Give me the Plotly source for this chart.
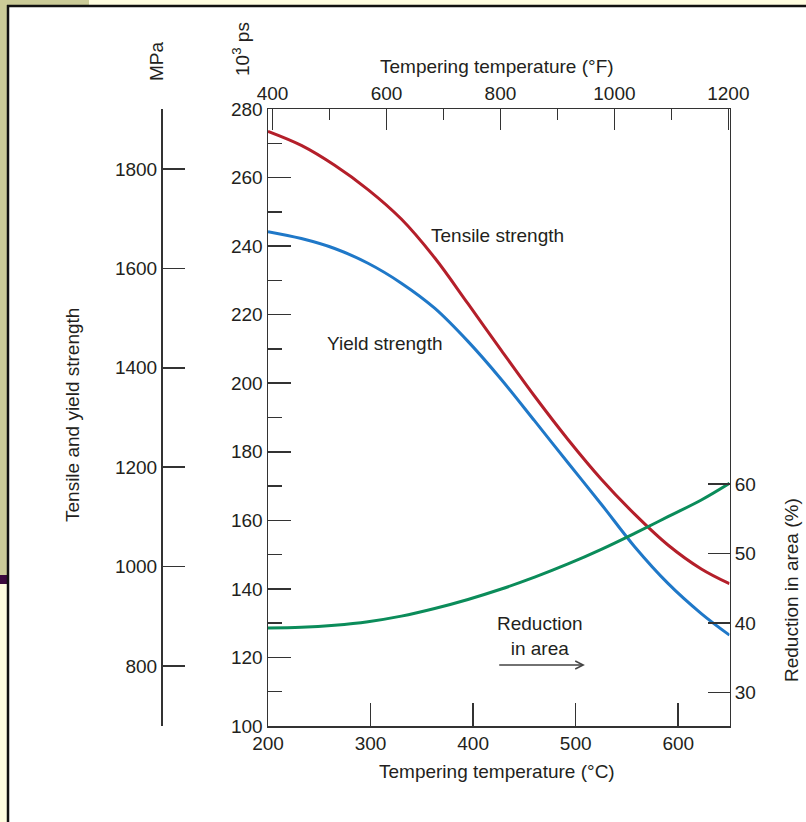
import plotly.graph_objects as go

# ---- data ----
temps_c = [200, 232.5, 265, 297.5, 330, 362.5, 395, 427.5, 460, 492.5, 525, 557.5, 590, 622.5, 650]
tensile_ksi = [273.5, 269.4, 263.6, 256.5, 247.9, 236.6, 223.2, 209.6, 196.2, 183.6, 172.0, 161.8, 152.8, 145.8, 141.5]
yield_ksi = [244.2, 242.2, 239.3, 235.0, 229.2, 221.9, 212.2, 201.1, 189.0, 176.8, 164.7, 152.3, 141.6, 132.8, 126.5]
ra_pct = [39.3, 39.4, 39.7, 40.2, 41.0, 42.1, 43.4, 44.9, 46.6, 48.5, 50.6, 52.9, 55.3, 57.7, 60.1]

c_ticks = [200, 300, 400, 500, 600]
f_ticks = [400, 600, 800, 1000, 1200]
f_minor = [500, 700, 900, 1100]
ksi_ticks = [100, 120, 140, 160, 180, 200, 220, 240, 260, 280]
ksi_minor = [110, 130, 150, 170, 190, 210, 230, 250, 270]
mpa_ticks = [800, 1000, 1200, 1400, 1600, 1800]
ra_ticks = [30, 40, 50, 60]

W, H = 806, 822
def fx(px):
    return px / W
def fy(py):
    return 1 - py / H

AX = '#333333'
TXT = '#231f20'
RED = '#b41f2a'
BLUE = '#1f78c8'
GREEN = '#0b8c5a'
FONT = 'Arial, Liberation Sans, sans-serif'

fig = go.Figure()
fig.add_trace(go.Scatter(x=temps_c, y=tensile_ksi, mode='lines',
                         line=dict(color=RED, width=3, shape='spline', smoothing=1.0),
                         xaxis='x', yaxis='y', hoverinfo='skip'))
fig.add_trace(go.Scatter(x=temps_c, y=yield_ksi, mode='lines',
                         line=dict(color=BLUE, width=3, shape='spline', smoothing=1.0),
                         xaxis='x', yaxis='y', hoverinfo='skip'))
fig.add_trace(go.Scatter(x=temps_c, y=ra_pct, mode='lines',
                         line=dict(color=GREEN, width=3, shape='spline', smoothing=1.0),
                         xaxis='x', yaxis='y2', hoverinfo='skip'))
# invisible helper traces so the °F and MPa axes are drawn
fig.add_trace(go.Scatter(x=[c * 9 / 5 + 32 for c in temps_c], y=tensile_ksi, mode='lines', opacity=0,
                         xaxis='x2', yaxis='y', hoverinfo='skip'))
fig.add_trace(go.Scatter(x=temps_c, y=[v * 6.895 for v in tensile_ksi], mode='lines', opacity=0,
                         xaxis='x', yaxis='y3', hoverinfo='skip'))

x_dom = [fx(268), fx(729.5)]
y_dom = [fy(726), fy(109)]

common = dict(showgrid=False, zeroline=False, showline=True, linecolor=AX, linewidth=1.5, automargin=False,
              tickcolor=AX, tickwidth=1.5, ticks='inside', tickfont=dict(size=19, color=TXT, family=FONT))

fig.update_layout(
    template='none',
    width=W, height=H, margin=dict(l=0, r=0, t=0, b=0, pad=0, autoexpand=False),
    paper_bgcolor='white', plot_bgcolor='rgba(0,0,0,0)', showlegend=False,
    font=dict(family=FONT, size=19, color=TXT),
    xaxis=dict(domain=x_dom, range=[200, 650], anchor='y', tickmode='array', tickvals=c_ticks, ticklen=23, **common),
    xaxis2=dict(overlaying='x', side='top', anchor='y', range=[392, 1202], tickmode='array', tickvals=f_ticks,
                ticklen=21, minor=dict(tickvals=f_minor, ticks='inside', ticklen=11, tickcolor=AX, tickwidth=1.5),
                **common),
    yaxis=dict(domain=y_dom, range=[100, 280], anchor='x', tickmode='array', tickvals=ksi_ticks, ticklen=23,
               minor=dict(tickvals=ksi_minor, ticks='inside', ticklen=14, tickcolor=AX, tickwidth=1.5), **common),
    yaxis2=dict(overlaying='y', side='right', anchor='x', range=[25.21, 113.9], tickmode='array', tickvals=ra_ticks,
                ticklen=22, **common),
    yaxis3=dict(overlaying='y', side='left', anchor='free', position=fx(161), range=[679.3, 1920.7],
                tickmode='array', tickvals=mpa_ticks, ticklen=22, **common),
)

# slide background pieces
shapes = [
    dict(type='rect', xref='paper', yref='paper', x0=0, x1=fx(89), y0=fy(575), y1=1,
         fillcolor='#cbcb98', line=dict(width=0), layer='below'),
    dict(type='rect', xref='paper', yref='paper', x0=fx(89), x1=1, y0=fy(5), y1=1,
         fillcolor='#fffde0', line=dict(width=0), layer='below'),
    dict(type='rect', xref='paper', yref='paper', x0=0, x1=fx(7), y0=fy(584), y1=fy(575),
         fillcolor='#3b0a3e', line=dict(width=0), layer='below'),
    dict(type='rect', xref='paper', yref='paper', x0=0, x1=fx(7), y0=0, y1=fy(584),
         fillcolor='#fffde0', line=dict(width=0), layer='below'),
    dict(type='rect', xref='paper', yref='paper', x0=fx(9), x1=1, y0=0, y1=fy(7),
         fillcolor='white', line=dict(width=0), layer='below'),
    dict(type='line', xref='paper', yref='paper', x0=fx(7), x1=1, y0=fy(6), y1=fy(6),
         line=dict(color='#111111', width=2.5), layer='below'),
    dict(type='line', xref='paper', yref='paper', x0=fx(8), x1=fx(8), y0=0, y1=fy(5),
         line=dict(color='#111111', width=2.5), layer='below'),
]
fig.update_layout(shapes=shapes)

ann = []
def paper_text(text, px, py, angle=0):
    ann.append(dict(text=text, xref='paper', yref='paper', x=fx(px), y=fy(py), showarrow=False,
                    xanchor='center', yanchor='middle', textangle=angle, font=dict(size=19, color=TXT, family=FONT)))

paper_text('Tempering temperature (°F)', 497, 67)
paper_text('Tempering temperature (°C)', 497, 771)
paper_text('Tensile and yield strength', 72, 415, -90)
paper_text('MPa', 157, 61, -90)
paper_text('10<sup>3</sup> ps', 241, 49, -90)
paper_text('Reduction in area (%)', 791, 590, -90)

def data_text(text, x, y):
    ann.append(dict(text=text, xref='x', yref='y', x=x, y=y, showarrow=False, xanchor='center', yanchor='middle',
                    font=dict(size=19, color=TXT, family=FONT)))

data_text('Tensile strength', 424, 243)
data_text('Yield strength', 313.5, 211.7)
data_text('Reduction<br>in area', 465, 126.3)
ann.append(dict(xref='x', yref='y', axref='x', ayref='y', x=509, y=117.8, ax=424, ay=117.8,
                text='', showarrow=True, arrowhead=5, arrowsize=1.2, arrowwidth=1.3, arrowcolor='#444444'))
fig.update_layout(annotations=ann)

fig.write_html('out.html', config={'displayModeBar': False, 'staticPlot': True},
               post_script="document.body.style.margin='0';document.body.style.overflow='hidden';")
